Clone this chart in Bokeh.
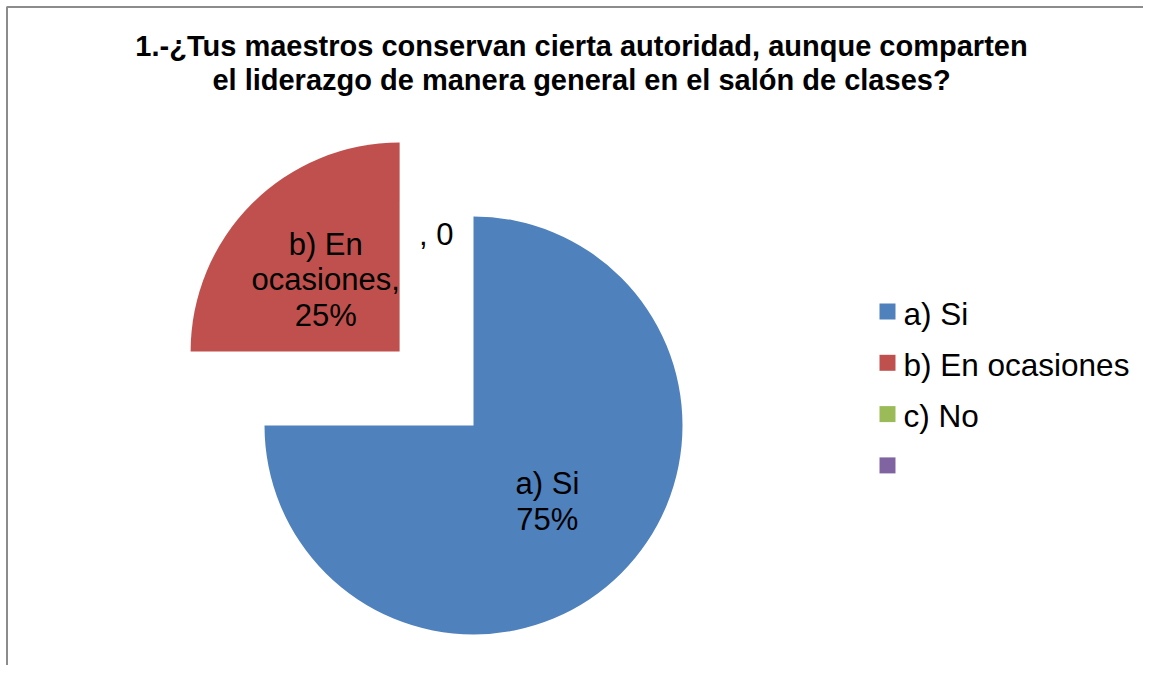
import math
from bokeh.plotting import figure
from bokeh.models import Range1d, ColumnDataSource
from bokeh.core.properties import value
from bokeh.embed import file_html
from bokeh.resources import INLINE

# ---- data ----
title_lines = ["1.-¿Tus maestros conservan cierta autoridad, aunque comparten",
               "el liderazgo de manera general en el salón de clases?"]
categories = ["a) Si", "b) En ocasiones", "c) No", ""]
values = [75, 25, 0, 0]
colors = ["#4F81BD", "#C0504D", "#9BBB59", "#8064A2"]
explode = [0.0, 0.5, 0.0, 0.0]
slice_labels = [["a) Si", "75%"], ["b) En", "ocasiones,", "25%"], [], [", 0"]]

# ---- layout (pixel-like data coords; y = 673 - screen y) ----
W, H = 1143, 665
FONT = value("Liberation Sans")
cx, cy, R = 473, 673 - 425, 209
LINE = 35.5
LABEL_SIZE = "31px"
TXT_SHIFT = 9  # renderer baseline correction (px, upward)

p = figure(width=W, height=H, x_range=Range1d(0, W), y_range=Range1d(673 - H, 673),
           output_backend="svg", toolbar_location=None, min_border=0,
           x_axis_type=None, y_axis_type=None, outline_line_color=None,
           background_fill_color="white", border_fill_color="white")
p.xgrid.visible = False
p.ygrid.visible = False

# chart border (top and left visible)
p.line([6.5, 6.5, W], [0, 673 - 6.5, 673 - 6.5], line_color="#8c8c8c", line_width=2)

# title
for i, t in enumerate(title_lines):
    p.text(x=[581], y=[673 - (53 + 34 * i) + 8], text=[t], text_font=FONT,
           text_font_size="29px", text_font_style="bold", text_align="center",
           text_baseline="alphabetic", text_color="black")

# pie
total = sum(values)
cum = 0.0
wx, wy, ws, we, wc = [], [], [], [], []
lab_x, lab_y, lab_t, lab_align = [], [], [], []
for cat, v, col, ex, lines in zip(categories, values, colors, explode, slice_labels):
    f0 = cum / total
    f1 = (cum + v) / total
    cum += v
    a_start = math.radians(90 - 360 * f1)
    a_end = math.radians(90 - 360 * f0)
    mid = (a_start + a_end) / 2
    ox = cx + ex * R * math.cos(mid)
    oy = cy + ex * R * math.sin(mid)
    if v > 0:
        wx.append(ox); wy.append(oy); ws.append(a_start); we.append(a_end); wc.append(col)
        lx = ox + 0.5 * R * math.cos(mid)
        ly_px = 673 - (oy + 0.5 * R * math.sin(mid))
        n = len(lines)
        b0 = ly_px + 11 - (LINE / 2) * (n - 1)
        for i, t in enumerate(lines):
            lab_x.append(lx); lab_y.append(673 - (b0 + LINE * i) + TXT_SHIFT); lab_t.append(t)
            lab_align.append("center")
    elif lines:
        # zero-value slice label near the top of the pie
        for i, t in enumerate(lines):
            lab_x.append(cx - 20); lab_y.append(cy + 0.87 * R - LINE * i + TXT_SHIFT)
            lab_t.append(t)
            lab_align.append("right")

p.wedge(x=wx, y=wy, radius=R, start_angle=ws, end_angle=we, direction="anticlock",
        fill_color=wc, line_color=None)

src = ColumnDataSource(dict(x=lab_x, y=lab_y, text=lab_t, align=lab_align))
p.text(x="x", y="y", text="text", source=src, text_font=FONT, text_font_size=LABEL_SIZE,
       text_align="align", text_baseline="alphabetic", text_color="black")

# legend
leg_y_px = [311 + 51.3 * i for i in range(len(categories))]
p.rect(x=[887] * len(categories), y=[673 - y for y in leg_y_px], width=16, height=16,
       fill_color=colors, line_color=None)
p.text(x=[903] * len(categories), y=[673 - (y + 12) + 10 for y in leg_y_px], text=categories,
       text_font=FONT, text_font_size="31.5px", text_align="left",
       text_baseline="alphabetic", text_color="black")

open("out.html", "w").write(file_html(p, INLINE))
